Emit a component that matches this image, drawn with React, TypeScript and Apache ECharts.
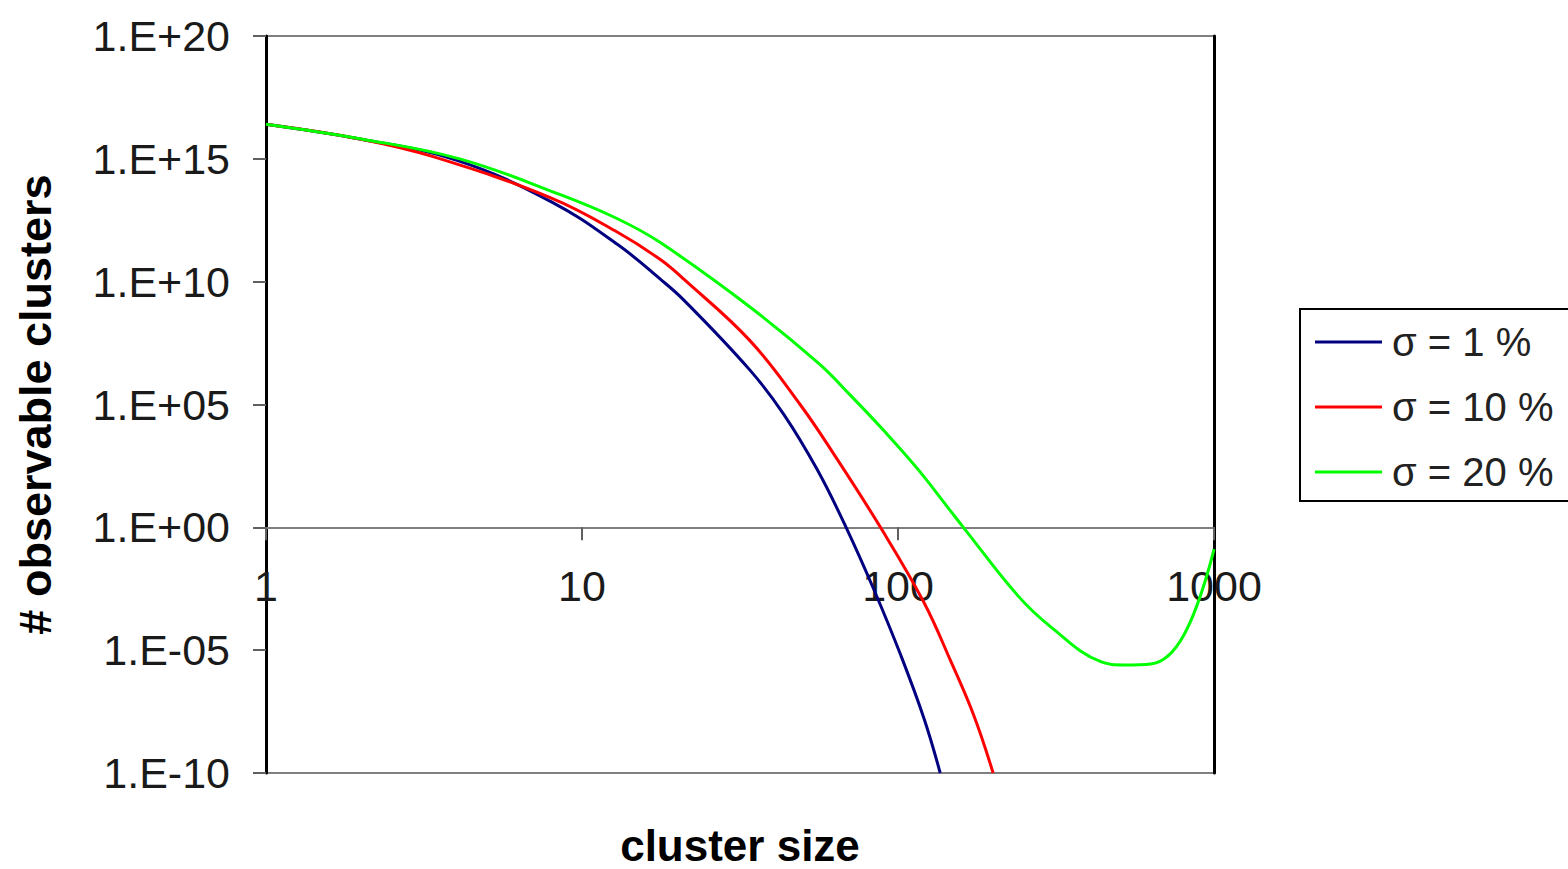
import React, { useEffect, useRef } from "react";
import * as echarts from "echarts";

// cluster size (x) and number of observable clusters (y)
const blueX = [1, 2, 4, 8, 13, 17.7, 21, 34, 43.5, 55.5, 68.5, 84, 102, 121, 136];
const blueY = [2.57e16, 6.31e15, 8.91e14, 1.78e13, 3.16e11, 1.26e10, 1.78e9, 2.51e6, 3.98e4, 224, 1, 2.82e-3, 6.31e-6, 1.58e-8, 1e-10];

const redX = [1, 2, 3.4, 8, 13, 17.7, 21, 34, 49, 62.5, 88, 120.6, 147, 174, 200];
const redY = [2.57e16, 6.31e15, 1.2e15, 2.51e13, 1e12, 7.94e10, 1.26e10, 3.98e7, 1e5, 1e3, 1, 9.12e-4, 3.47e-6, 2.09e-8, 1e-10];

const greenX = [1, 2, 4.1, 8.5, 12.9, 17.7, 34, 56, 71, 90, 115, 147, 161, 239, 305, 438, 519, 631, 803, 1000];
const greenY = [2.57e16, 6.46e15, 1e15, 3.55e13, 3.72e12, 3.89e11, 9.33e8, 4.79e6, 2.24e5, 8.91e3, 251, 4.47, 1, 1.7e-3, 8.71e-5, 3.39e-6, 2.51e-6, 2.75e-6, 4.17e-5, 0.129];

const seriesNames = ["σ = 1 %", "σ = 10 %", "σ = 20 %"];
const seriesColors = ["#000080", "#ff0000", "#00ff00"];

const xTitle = "cluster size";
const yTitle = "# observable clusters";

const FONT = "'Liberation Sans', Arial, sans-serif";

function fmtY(v: number): string {
  const e = Math.round(Math.log10(v));
  const sign = e >= 0 ? "+" : "-";
  return "1.E" + sign + String(Math.abs(e)).padStart(2, "0");
}

function fmtX(v: number): string {
  return String(Math.round(v));
}

export default function App() {
  const ref = useRef<HTMLDivElement>(null);
  useEffect(() => {
    if (!ref.current) return;
    const chart = echarts.init(ref.current, null, { renderer: "svg" });
    const gridTop = 36;
    const gridHeight = 737;
    const pairs = (xs: number[], ys: number[]) => xs.map((x, i) => [x, ys[i]]);
    const datasets = [pairs(blueX, blueY), pairs(redX, redY), pairs(greenX, greenY)];
    chart.setOption({
      animation: false,
      backgroundColor: "#ffffff",
      grid: {
        left: 266,
        top: gridTop,
        width: 948,
        height: gridHeight,
        show: true,
        borderColor: "#808080",
        borderWidth: 2,
        backgroundColor: "transparent",
        containLabel: false,
        outerBoundsMode: "none",
      },
      legend: {
        orient: "vertical",
        left: 1300,
        top: 309,
        data: seriesNames.map((n) => ({ name: n, icon: "rect" })),
        borderColor: "#000",
        borderWidth: 2,
        backgroundColor: "#fff",
        padding: [13, 20, 9, 15],
        itemWidth: 67,
        itemHeight: 3,
        itemGap: 25,
        textStyle: {
          fontFamily: FONT,
          fontSize: 40,
          lineHeight: 40,
          color: "#222",
          padding: [0, 0, 0, 5],
        },
      },
      xAxis: {
        type: "log",
        logBase: 10,
        min: 1,
        max: 1000,
        position: "bottom",
        offset: -gridHeight / 3,
        name: xTitle,
        nameLocation: "middle",
        nameGap: 296,
        nameTextStyle: { fontFamily: FONT, fontSize: 44, fontWeight: "bold", color: "#000" },
        axisLine: { show: true, lineStyle: { color: "#808080", width: 2 } },
        axisTick: { show: true, inside: false, length: 13, lineStyle: { color: "#606060", width: 2 } },
        axisLabel: { fontFamily: FONT, fontSize: 43, color: "#1a1a1a", margin: 37, formatter: fmtX },
        splitLine: { show: false },
        minorTick: { show: false },
      },
      yAxis: [
        {
          type: "log",
          logBase: 10,
          min: 1e-10,
          max: 1e20,
          interval: 5,
          position: "left",
          name: yTitle,
          nameLocation: "middle",
          nameGap: 208,
          nameRotate: 90,
          nameTextStyle: { fontFamily: FONT, fontSize: 45, fontWeight: "bold", color: "#000" },
          axisLine: { show: true, lineStyle: { color: "#000", width: 3 } },
          axisTick: { show: true, inside: false, length: 13, lineStyle: { color: "#606060", width: 2 } },
          axisLabel: { fontFamily: FONT, fontSize: 43, color: "#1a1a1a", margin: 36, formatter: fmtY },
          splitLine: { show: false },
        },
        {
          type: "log",
          logBase: 10,
          min: 1e-10,
          max: 1e20,
          interval: 5,
          position: "right",
          axisLine: { show: true, lineStyle: { color: "#000", width: 3 } },
          axisTick: { show: false },
          axisLabel: { show: false },
          splitLine: { show: false },
        },
      ],
      series: datasets.map((d, i) => ({
        name: seriesNames[i],
        type: "line",
        data: d,
        yAxisIndex: 0,
        symbol: "none",
        smooth: 0.4,
        clip: true,
        lineStyle: { color: seriesColors[i], width: 3 },
        itemStyle: { color: seriesColors[i] },
      })),
    });
    return () => chart.dispose();
  }, []);
  return (
    <div
      ref={ref}
      style={{ position: "fixed", left: 0, top: 0, width: 1568, height: 869 }}
    />
  );
}
